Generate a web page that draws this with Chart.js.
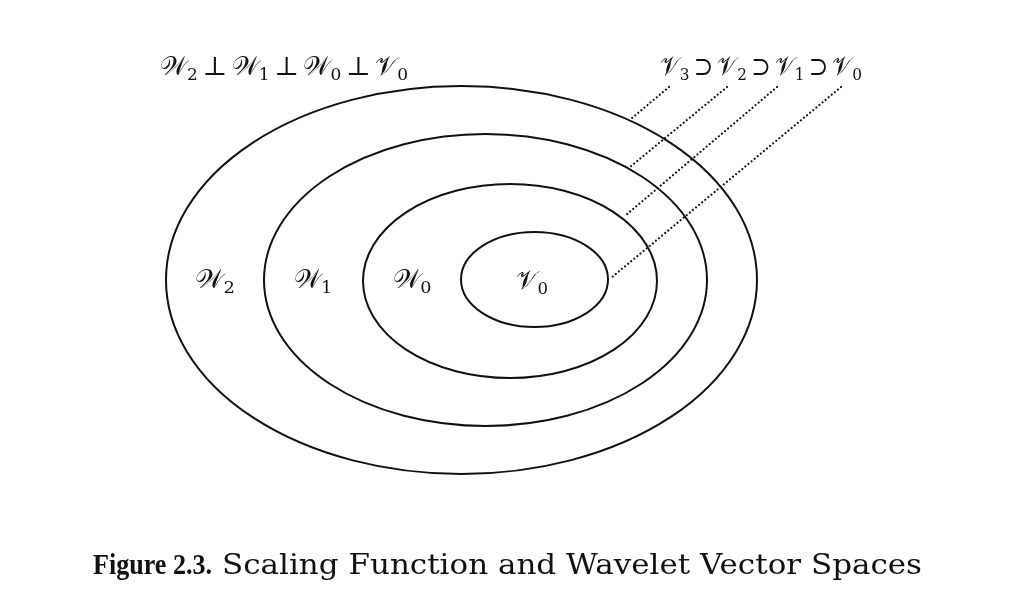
<!DOCTYPE html>
<html>
<head>
<meta charset="utf-8">
<script src="https://cdn.jsdelivr.net/npm/chart.js@4/dist/chart.umd.min.js"></script>
<style>
  html, body { margin: 0; padding: 0; background: #fff; }
  #wrap { width: 1016px; height: 595px; }
</style>
</head>
<body>
<div id="wrap"><canvas id="grafica" width="1016" height="595"></canvas></div>
<script>
// nested spaces, from outside to inside (page units = pixels of the figure)
const espacios = ['W2', 'W1', 'W0', 'V0'];
const centroX = [461.5, 485.5, 510, 534.5];
const centroY = [280, 280, 281, 279.5];
const radioX = [295.5, 221.5, 147, 73.5];
const radioY = [194, 146, 97, 47.5];

// region labels inside each ring
const etiquetaX = [215, 313, 412, 532];
const etiquetaY = [288, 288, 288, 289];

// dotted leaders: from the subscripts of V3..V0 down to each ellipse
const guiaDesdeX = [669, 727, 777, 841];
const guiaDesdeY = [87, 87, 87, 87];
const guiaHastaX = [632, 630, 626, 611];
const guiaHastaY = [118, 167, 215, 278];

const tituloOrto = [['W', '2'], '⊥', ['W', '1'], '⊥', ['W', '0'], '⊥', ['V', '0']];
const tituloInc = [['V', '3'], '⊃', ['V', '2'], '⊃', ['V', '1'], '⊃', ['V', '0']];
const pieNegrita = 'Figure 2.3.';
const pieTexto = 'Scaling Function and Wavelet Vector Spaces';

const SCRIPT = { W: '\u{1D4B2}', V: '\u{1D4B1}' };
const FUENTE = '"DejaVu Serif", "Liberation Serif", "Noto Sans", serif';

// draws a little math expression, stretched to a given width
function dibujarMath(ctx, partes, x, base, ancho, tam) {
    const fLetra = `${tam}px ${FUENTE}`;
    const fSub = `${Math.round(tam * 0.64)}px ${FUENTE}`;
    const piezas = [];
    partes.forEach((p, i) => {
        if (Array.isArray(p)) {
            ctx.font = fLetra;
            const l = SCRIPT[p[0]] || p[0];
            piezas.push({ t: l, f: fLetra, w: ctx.measureText(l).width, dy: 0 });
            ctx.font = fSub;
            piezas.push({ t: p[1], f: fSub, w: ctx.measureText(p[1]).width, dy: tam * 0.2 });
        } else {
            ctx.font = fLetra;
            piezas.push({ t: ' ', f: fLetra, w: tam * 0.18, dy: 0 });
            piezas.push({ t: p, f: fLetra, w: ctx.measureText(p).width, dy: 0 });
            piezas.push({ t: ' ', f: fLetra, w: tam * 0.18, dy: 0 });
        }
    });
    const total = piezas.reduce((s, p) => s + p.w, 0);
    ctx.save();
    ctx.translate(x, base);
    ctx.scale(ancho / total, 1);
    let cx = 0;
    piezas.forEach(p => {
        ctx.font = p.f;
        if (p.t.trim()) ctx.fillText(p.t, cx, p.dy);
        cx += p.w;
    });
    ctx.restore();
}

function textoAjustado(ctx, txt, x, base, ancho, font) {
    ctx.font = font;
    const w = ctx.measureText(txt).width;
    ctx.save();
    ctx.translate(x, base);
    ctx.scale(ancho / w, 1);
    ctx.fillText(txt, 0, 0);
    ctx.restore();
}

const pluginEspacios = {
    id: 'espacios',
    beforeDatasetsDraw(chart) {
        const { ctx, scales: { x, y } } = chart;
        ctx.save();
        ctx.strokeStyle = '#111';
        ctx.lineWidth = 2;
        espacios.forEach((n, i) => {
            const px = x.getPixelForValue(centroX[i]);
            const py = y.getPixelForValue(centroY[i]);
            const rx = Math.abs(x.getPixelForValue(centroX[i] + radioX[i]) - px);
            const ry = Math.abs(y.getPixelForValue(centroY[i] + radioY[i]) - py);
            ctx.beginPath();
            ctx.ellipse(px, py, rx, ry, 0, 0, Math.PI * 2);
            ctx.stroke();
        });
        ctx.restore();
    },
    afterDatasetsDraw(chart) {
        const { ctx, scales: { x, y } } = chart;
        ctx.save();
        ctx.fillStyle = '#111';
        ctx.textBaseline = 'alphabetic';
        ctx.textAlign = 'left';

        // region names
        const anchos = [40, 38, 39, 32];
        espacios.forEach((n, i) => {
            const px = x.getPixelForValue(etiquetaX[i]);
            const py = y.getPixelForValue(etiquetaY[i]);
            dibujarMath(ctx, [[n[0], n[1]]], px - anchos[i] / 2, py, anchos[i], 26);
        });

        // the two relations on top
        dibujarMath(ctx, tituloOrto, x.getPixelForValue(160), y.getPixelForValue(75), 248, 26);
        dibujarMath(ctx, tituloInc, x.getPixelForValue(660), y.getPixelForValue(75), 202, 26);

        // caption
        textoAjustado(ctx, pieNegrita, x.getPixelForValue(93), y.getPixelForValue(574), 119, `bold 30px "Liberation Serif", serif`);
        textoAjustado(ctx, pieTexto, x.getPixelForValue(222), y.getPixelForValue(574), 700, `27px "DejaVu Serif", serif`);
        ctx.restore();
    }
};

const datasetsGuia = guiaDesdeX.map((_, i) => ({
    data: [{ x: guiaDesdeX[i], y: guiaDesdeY[i] }, { x: guiaHastaX[i], y: guiaHastaY[i] }],
    showLine: true,
    borderColor: '#111',
    borderWidth: 2.2,
    borderDash: [0.01, 4],
    borderCapStyle: 'round',
    pointRadius: 0,
    fill: false
}));

new Chart(document.getElementById('grafica'), {
    type: 'scatter',
    data: { datasets: datasetsGuia },
    options: {
        responsive: false,
        animation: false,
        layout: { padding: 0 },
        scales: {
            x: { type: 'linear', min: 0, max: 1016, display: false },
            y: { type: 'linear', min: 0, max: 595, reverse: true, display: false }
        },
        plugins: {
            legend: { display: false },
            tooltip: { enabled: false }
        }
    },
    plugins: [pluginEspacios]
});
</script>
</body>
</html>
